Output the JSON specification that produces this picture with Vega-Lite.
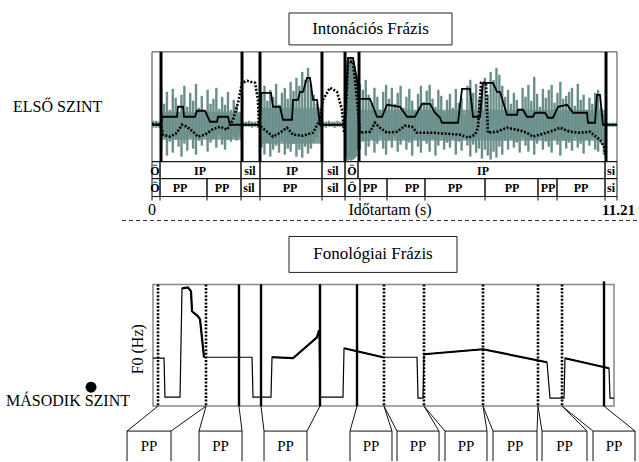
{
  "$schema": "https://vega.github.io/schema/vega-lite/v6.json",
  "width": 639,
  "height": 462,
  "padding": 0,
  "autosize": {"type": "fit", "contains": "padding"},
  "config": {"view": {"stroke": null}, "text": {"font": "Liberation Serif"}},
  "datasets": {
    "boxes": [
      {"t": 3.301, "t2": 7.229, "y": 13, "y2": 45},
      {"t": 3.301, "t2": 7.349, "y": 237, "y2": 273}
    ],
    "frame1": [{"t": 0, "t2": 11.205, "y": 52, "y2": 162}],
    "frame2": [{"t": 0.024, "t2": 11.133, "y": 285, "y2": 407}],
    "wavecore": [
      {"t": 0.217, "t2": 2.169, "y": 112, "y2": 140},
      {"t": 2.602, "t2": 4.096, "y": 108, "y2": 144},
      {"t": 4.988, "t2": 10.94, "y": 110, "y2": 141}
    ],
    "tiers": [
      {"t": 0, "t2": 0.193, "y": 162, "y2": 179},
      {"t": 0.193, "t2": 2.145, "y": 162, "y2": 179},
      {"t": 2.145, "t2": 2.602, "y": 162, "y2": 179},
      {"t": 2.602, "t2": 4.096, "y": 162, "y2": 179},
      {"t": 4.096, "t2": 4.651, "y": 162, "y2": 179},
      {"t": 4.651, "t2": 4.964, "y": 162, "y2": 179},
      {"t": 4.964, "t2": 10.916, "y": 162, "y2": 179},
      {"t": 10.916, "t2": 11.205, "y": 162, "y2": 179},
      {"t": 0, "t2": 0.193, "y": 179, "y2": 197},
      {"t": 0.193, "t2": 1.325, "y": 179, "y2": 197},
      {"t": 1.325, "t2": 2.145, "y": 179, "y2": 197},
      {"t": 2.145, "t2": 2.602, "y": 179, "y2": 197},
      {"t": 2.602, "t2": 4.096, "y": 179, "y2": 197},
      {"t": 4.096, "t2": 4.651, "y": 179, "y2": 197},
      {"t": 4.651, "t2": 5.012, "y": 179, "y2": 197},
      {"t": 5.012, "t2": 5.663, "y": 179, "y2": 197},
      {"t": 5.663, "t2": 6.578, "y": 179, "y2": 197},
      {"t": 6.578, "t2": 8.024, "y": 179, "y2": 197},
      {"t": 8.024, "t2": 9.301, "y": 179, "y2": 197},
      {"t": 9.301, "t2": 9.759, "y": 179, "y2": 197},
      {"t": 9.759, "t2": 10.916, "y": 179, "y2": 197},
      {"t": 10.916, "t2": 11.205, "y": 179, "y2": 197}
    ],
    "wave": [
      {"t": 0.03, "y": 121, "y2": 128}, {"t": 0.10, "y": 121, "y2": 128}, {"t": 0.17, "y": 122, "y2": 128},
      {"t": 0.22, "y": 86, "y2": 150}, {"t": 0.29, "y": 104, "y2": 138}, {"t": 0.36, "y": 92, "y2": 156},
      {"t": 0.43, "y": 110, "y2": 142}, {"t": 0.50, "y": 89, "y2": 153}, {"t": 0.57, "y": 98, "y2": 140},
      {"t": 0.64, "y": 112, "y2": 147}, {"t": 0.71, "y": 95, "y2": 157}, {"t": 0.78, "y": 86, "y2": 144},
      {"t": 0.85, "y": 107, "y2": 151}, {"t": 0.92, "y": 93, "y2": 137}, {"t": 0.99, "y": 101, "y2": 149},
      {"t": 1.06, "y": 84, "y2": 155}, {"t": 1.13, "y": 108, "y2": 141}, {"t": 1.20, "y": 96, "y2": 146},
      {"t": 1.27, "y": 113, "y2": 136}, {"t": 1.34, "y": 90, "y2": 152}, {"t": 1.41, "y": 104, "y2": 143},
      {"t": 1.48, "y": 99, "y2": 139}, {"t": 1.55, "y": 88, "y2": 148}, {"t": 1.62, "y": 109, "y2": 135},
      {"t": 1.69, "y": 97, "y2": 145}, {"t": 1.76, "y": 105, "y2": 150}, {"t": 1.83, "y": 92, "y2": 140},
      {"t": 1.90, "y": 110, "y2": 142}, {"t": 1.97, "y": 100, "y2": 137}, {"t": 2.04, "y": 106, "y2": 141},
      {"t": 2.11, "y": 115, "y2": 134},
      {"t": 2.20, "y": 122, "y2": 127}, {"t": 2.27, "y": 122, "y2": 127}, {"t": 2.34, "y": 121, "y2": 127},
      {"t": 2.41, "y": 122, "y2": 128}, {"t": 2.48, "y": 122, "y2": 127}, {"t": 2.55, "y": 121, "y2": 128},
      {"t": 2.64, "y": 92, "y2": 148}, {"t": 2.71, "y": 86, "y2": 155}, {"t": 2.78, "y": 101, "y2": 143},
      {"t": 2.85, "y": 90, "y2": 157}, {"t": 2.92, "y": 97, "y2": 150}, {"t": 2.99, "y": 84, "y2": 146},
      {"t": 3.06, "y": 105, "y2": 153}, {"t": 3.13, "y": 93, "y2": 141}, {"t": 3.20, "y": 88, "y2": 155},
      {"t": 3.27, "y": 99, "y2": 149}, {"t": 3.34, "y": 82, "y2": 152}, {"t": 3.41, "y": 91, "y2": 144},
      {"t": 3.48, "y": 78, "y2": 157}, {"t": 3.55, "y": 86, "y2": 150}, {"t": 3.62, "y": 72, "y2": 158},
      {"t": 3.69, "y": 80, "y2": 147}, {"t": 3.76, "y": 68, "y2": 154}, {"t": 3.83, "y": 84, "y2": 149},
      {"t": 3.90, "y": 95, "y2": 143}, {"t": 3.97, "y": 104, "y2": 138}, {"t": 4.04, "y": 112, "y2": 133},
      {"t": 4.12, "y": 122, "y2": 127}, {"t": 4.19, "y": 122, "y2": 128}, {"t": 4.26, "y": 121, "y2": 127},
      {"t": 4.33, "y": 122, "y2": 127}, {"t": 4.40, "y": 122, "y2": 128}, {"t": 4.47, "y": 121, "y2": 127},
      {"t": 4.54, "y": 122, "y2": 127}, {"t": 4.61, "y": 122, "y2": 128},
      {"t": 4.68, "y": 80, "y2": 158}, {"t": 4.72, "y": 62, "y2": 161}, {"t": 4.76, "y": 57, "y2": 160},
      {"t": 4.80, "y": 58, "y2": 161}, {"t": 4.84, "y": 60, "y2": 160}, {"t": 4.88, "y": 66, "y2": 159},
      {"t": 4.92, "y": 75, "y2": 157}, {"t": 4.96, "y": 90, "y2": 150},
      {"t": 5.01, "y": 84, "y2": 150}, {"t": 5.08, "y": 90, "y2": 142}, {"t": 5.15, "y": 80, "y2": 156},
      {"t": 5.22, "y": 95, "y2": 147}, {"t": 5.29, "y": 103, "y2": 139}, {"t": 5.36, "y": 88, "y2": 153},
      {"t": 5.43, "y": 97, "y2": 144}, {"t": 5.50, "y": 110, "y2": 136}, {"t": 5.57, "y": 92, "y2": 149},
      {"t": 5.64, "y": 85, "y2": 155}, {"t": 5.71, "y": 99, "y2": 141}, {"t": 5.78, "y": 88, "y2": 148},
      {"t": 5.85, "y": 104, "y2": 137}, {"t": 5.92, "y": 93, "y2": 152}, {"t": 5.99, "y": 86, "y2": 145},
      {"t": 6.06, "y": 108, "y2": 139}, {"t": 6.13, "y": 97, "y2": 150}, {"t": 6.20, "y": 89, "y2": 143},
      {"t": 6.27, "y": 101, "y2": 156}, {"t": 6.34, "y": 112, "y2": 138}, {"t": 6.41, "y": 94, "y2": 147},
      {"t": 6.48, "y": 86, "y2": 153}, {"t": 6.55, "y": 102, "y2": 141}, {"t": 6.62, "y": 91, "y2": 144},
      {"t": 6.69, "y": 85, "y2": 152}, {"t": 6.76, "y": 99, "y2": 139}, {"t": 6.83, "y": 107, "y2": 156},
      {"t": 6.90, "y": 90, "y2": 146}, {"t": 6.97, "y": 96, "y2": 137}, {"t": 7.04, "y": 113, "y2": 150},
      {"t": 7.11, "y": 100, "y2": 143}, {"t": 7.18, "y": 94, "y2": 148}, {"t": 7.25, "y": 108, "y2": 139},
      {"t": 7.32, "y": 89, "y2": 155}, {"t": 7.39, "y": 103, "y2": 142}, {"t": 7.46, "y": 98, "y2": 151},
      {"t": 7.53, "y": 115, "y2": 136}, {"t": 7.60, "y": 86, "y2": 146}, {"t": 7.67, "y": 80, "y2": 157},
      {"t": 7.74, "y": 93, "y2": 145}, {"t": 7.81, "y": 84, "y2": 153}, {"t": 7.88, "y": 99, "y2": 149},
      {"t": 7.95, "y": 88, "y2": 159}, {"t": 8.02, "y": 78, "y2": 150}, {"t": 8.09, "y": 95, "y2": 156},
      {"t": 8.16, "y": 72, "y2": 160}, {"t": 8.23, "y": 80, "y2": 152}, {"t": 8.30, "y": 68, "y2": 158},
      {"t": 8.37, "y": 75, "y2": 147}, {"t": 8.44, "y": 86, "y2": 155}, {"t": 8.51, "y": 97, "y2": 141},
      {"t": 8.58, "y": 90, "y2": 150}, {"t": 8.65, "y": 104, "y2": 139}, {"t": 8.72, "y": 93, "y2": 148},
      {"t": 8.79, "y": 100, "y2": 143}, {"t": 8.86, "y": 112, "y2": 153}, {"t": 8.93, "y": 88, "y2": 137},
      {"t": 9.00, "y": 97, "y2": 146}, {"t": 9.07, "y": 85, "y2": 152}, {"t": 9.14, "y": 101, "y2": 140},
      {"t": 9.21, "y": 77, "y2": 155}, {"t": 9.28, "y": 94, "y2": 144}, {"t": 9.35, "y": 107, "y2": 138},
      {"t": 9.42, "y": 89, "y2": 150}, {"t": 9.49, "y": 98, "y2": 142}, {"t": 9.56, "y": 90, "y2": 147},
      {"t": 9.63, "y": 85, "y2": 153}, {"t": 9.70, "y": 103, "y2": 139}, {"t": 9.77, "y": 93, "y2": 145},
      {"t": 9.84, "y": 82, "y2": 156}, {"t": 9.91, "y": 99, "y2": 141}, {"t": 9.98, "y": 96, "y2": 149},
      {"t": 10.05, "y": 92, "y2": 143}, {"t": 10.12, "y": 88, "y2": 151}, {"t": 10.19, "y": 106, "y2": 137},
      {"t": 10.26, "y": 84, "y2": 148}, {"t": 10.33, "y": 100, "y2": 144}, {"t": 10.40, "y": 95, "y2": 154},
      {"t": 10.47, "y": 110, "y2": 140}, {"t": 10.54, "y": 98, "y2": 146}, {"t": 10.61, "y": 104, "y2": 138},
      {"t": 10.68, "y": 93, "y2": 150}, {"t": 10.75, "y": 90, "y2": 152}, {"t": 10.82, "y": 108, "y2": 144},
      {"t": 10.89, "y": 114, "y2": 155},
      {"t": 10.97, "y": 123, "y2": 127}, {"t": 11.04, "y": 123, "y2": 127}, {"t": 11.11, "y": 123, "y2": 127},
      {"t": 11.18, "y": 123, "y2": 127}
    ],
    "f0top": [
      {"t": 0, "y": 125}, {"t": 0.217, "y": 125}, {"t": 0.241, "y": 117}, {"t": 0.602, "y": 117},
      {"t": 0.627, "y": 107}, {"t": 0.747, "y": 107}, {"t": 0.771, "y": 117}, {"t": 1.036, "y": 117},
      {"t": 1.084, "y": 111}, {"t": 1.277, "y": 111}, {"t": 1.398, "y": 122}, {"t": 1.566, "y": 122},
      {"t": 1.590, "y": 117}, {"t": 1.831, "y": 117}, {"t": 1.880, "y": 125}, {"t": 2.602, "y": 125},
      {"t": 2.627, "y": 93}, {"t": 2.867, "y": 93}, {"t": 2.916, "y": 107}, {"t": 3.084, "y": 107},
      {"t": 3.157, "y": 120}, {"t": 3.373, "y": 120}, {"t": 3.398, "y": 100}, {"t": 3.518, "y": 100},
      {"t": 3.566, "y": 92}, {"t": 3.639, "y": 92}, {"t": 3.735, "y": 78}, {"t": 3.807, "y": 78},
      {"t": 3.880, "y": 100}, {"t": 3.976, "y": 100}, {"t": 4.048, "y": 125}, {"t": 4.627, "y": 125},
      {"t": 4.675, "y": 100}, {"t": 4.723, "y": 58}, {"t": 4.843, "y": 58}, {"t": 4.940, "y": 80},
      {"t": 4.988, "y": 99}, {"t": 5.253, "y": 99}, {"t": 5.422, "y": 117}, {"t": 5.542, "y": 117},
      {"t": 5.663, "y": 105}, {"t": 5.976, "y": 107}, {"t": 6.145, "y": 117}, {"t": 6.337, "y": 117},
      {"t": 6.506, "y": 104}, {"t": 6.699, "y": 104}, {"t": 6.819, "y": 113}, {"t": 6.940, "y": 118},
      {"t": 6.988, "y": 123}, {"t": 7.373, "y": 123}, {"t": 7.470, "y": 89}, {"t": 7.663, "y": 89},
      {"t": 7.735, "y": 117}, {"t": 7.904, "y": 117}, {"t": 7.976, "y": 83}, {"t": 8.217, "y": 83},
      {"t": 8.313, "y": 92}, {"t": 8.386, "y": 92}, {"t": 8.554, "y": 115}, {"t": 8.795, "y": 115},
      {"t": 8.819, "y": 110}, {"t": 8.940, "y": 110}, {"t": 9.036, "y": 117}, {"t": 9.181, "y": 117},
      {"t": 9.229, "y": 113}, {"t": 9.470, "y": 113}, {"t": 9.542, "y": 118}, {"t": 9.663, "y": 118},
      {"t": 9.783, "y": 107}, {"t": 10.000, "y": 105}, {"t": 10.145, "y": 113}, {"t": 10.482, "y": 113},
      {"t": 10.506, "y": 123}, {"t": 10.675, "y": 123}, {"t": 10.723, "y": 95}, {"t": 10.795, "y": 95},
      {"t": 10.867, "y": 125}, {"t": 11.205, "y": 125}
    ],
    "inttop": [
      {"t": 0, "y": 124}, {"t": 0.217, "y": 125}, {"t": 0.265, "y": 135}, {"t": 0.434, "y": 137},
      {"t": 0.602, "y": 133}, {"t": 0.723, "y": 125}, {"t": 0.843, "y": 127}, {"t": 0.988, "y": 132},
      {"t": 1.108, "y": 137}, {"t": 1.277, "y": 135}, {"t": 1.446, "y": 130}, {"t": 1.639, "y": 127},
      {"t": 1.807, "y": 130}, {"t": 1.952, "y": 120}, {"t": 2.072, "y": 103}, {"t": 2.169, "y": 83},
      {"t": 2.289, "y": 81}, {"t": 2.482, "y": 83}, {"t": 2.554, "y": 100}, {"t": 2.578, "y": 127},
      {"t": 2.627, "y": 127}, {"t": 2.771, "y": 132}, {"t": 2.916, "y": 137}, {"t": 3.084, "y": 133},
      {"t": 3.253, "y": 128}, {"t": 3.398, "y": 135}, {"t": 3.639, "y": 136}, {"t": 3.880, "y": 133},
      {"t": 4.048, "y": 120}, {"t": 4.120, "y": 100}, {"t": 4.289, "y": 88}, {"t": 4.458, "y": 92},
      {"t": 4.578, "y": 110}, {"t": 4.627, "y": 133}, {"t": 4.675, "y": 110}, {"t": 4.723, "y": 62},
      {"t": 4.843, "y": 62}, {"t": 4.940, "y": 100}, {"t": 5.012, "y": 133}, {"t": 5.253, "y": 132},
      {"t": 5.373, "y": 123}, {"t": 5.494, "y": 128}, {"t": 5.663, "y": 133}, {"t": 5.904, "y": 132},
      {"t": 6.096, "y": 126}, {"t": 6.265, "y": 127}, {"t": 6.386, "y": 133}, {"t": 6.771, "y": 133},
      {"t": 7.108, "y": 134}, {"t": 7.422, "y": 135}, {"t": 7.614, "y": 138}, {"t": 7.783, "y": 135},
      {"t": 7.855, "y": 128}, {"t": 7.928, "y": 83}, {"t": 8.048, "y": 83}, {"t": 8.096, "y": 133},
      {"t": 8.313, "y": 132}, {"t": 8.554, "y": 128}, {"t": 8.795, "y": 130}, {"t": 9.036, "y": 133},
      {"t": 9.181, "y": 137}, {"t": 9.349, "y": 135}, {"t": 9.590, "y": 132}, {"t": 9.831, "y": 128},
      {"t": 10.072, "y": 132}, {"t": 10.313, "y": 133}, {"t": 10.554, "y": 132}, {"t": 10.795, "y": 140},
      {"t": 10.892, "y": 147}, {"t": 10.940, "y": 158}
    ],
    "topbounds": [
      {"t": 0.217, "y": 52, "y2": 162}, {"t": 2.169, "y": 52, "y2": 162}, {"t": 2.602, "y": 52, "y2": 162},
      {"t": 4.096, "y": 52, "y2": 162}, {"t": 4.651, "y": 52, "y2": 162}, {"t": 4.988, "y": 52, "y2": 162},
      {"t": 10.940, "y": 52, "y2": 162}
    ],
    "tierlabels": [
      {"t": 0.072, "y": 171, "label": "Ö"}, {"t": 1.157, "y": 171, "label": "IP"},
      {"t": 2.361, "y": 171, "label": "sil"}, {"t": 3.373, "y": 171, "label": "IP"},
      {"t": 4.361, "y": 171, "label": "sil"}, {"t": 4.819, "y": 171, "label": "Ö"},
      {"t": 7.976, "y": 171, "label": "IP"}, {"t": 11.06, "y": 171, "label": "si"},
      {"t": 0.072, "y": 188, "label": "Ö"}, {"t": 0.675, "y": 188, "label": "PP"},
      {"t": 1.687, "y": 188, "label": "PP"}, {"t": 2.336, "y": 188, "label": "sil"},
      {"t": 3.325, "y": 188, "label": "PP"}, {"t": 4.361, "y": 188, "label": "sil"},
      {"t": 4.819, "y": 188, "label": "Ö"}, {"t": 5.253, "y": 188, "label": "PP"},
      {"t": 6.265, "y": 188, "label": "PP"}, {"t": 7.301, "y": 188, "label": "PP"},
      {"t": 8.675, "y": 188, "label": "PP"}, {"t": 9.542, "y": 188, "label": "PP"},
      {"t": 10.337, "y": 188, "label": "PP"}, {"t": 11.06, "y": 188, "label": "si"}
    ],
    "segs": [
      {"t": 0, "t2": 0, "y": 197, "y2": 201}, {"t": 0.193, "t2": 0.193, "y": 197, "y2": 201},
      {"t": 1.325, "t2": 1.325, "y": 197, "y2": 201}, {"t": 2.145, "t2": 2.145, "y": 197, "y2": 201},
      {"t": 2.602, "t2": 2.602, "y": 197, "y2": 201}, {"t": 4.096, "t2": 4.096, "y": 197, "y2": 201},
      {"t": 4.651, "t2": 4.651, "y": 197, "y2": 201}, {"t": 5.012, "t2": 5.012, "y": 197, "y2": 201},
      {"t": 5.663, "t2": 5.663, "y": 197, "y2": 201}, {"t": 6.578, "t2": 6.578, "y": 197, "y2": 201},
      {"t": 8.024, "t2": 8.024, "y": 197, "y2": 201}, {"t": 9.301, "t2": 9.301, "y": 197, "y2": 201},
      {"t": 9.759, "t2": 9.759, "y": 197, "y2": 201}, {"t": 10.916, "t2": 10.916, "y": 197, "y2": 201},
      {"t": 11.205, "t2": 11.205, "y": 197, "y2": 201},
      {"t": 0.145, "t2": -0.602, "y": 407, "y2": 432}, {"t": 1.301, "t2": 0.458, "y": 407, "y2": 432},
      {"t": 1.301, "t2": 1.133, "y": 407, "y2": 432}, {"t": 2.096, "t2": 2.169, "y": 407, "y2": 432},
      {"t": 2.627, "t2": 2.699, "y": 407, "y2": 432}, {"t": 4.048, "t2": 3.735, "y": 407, "y2": 432},
      {"t": 4.940, "t2": 4.771, "y": 407, "y2": 432}, {"t": 5.590, "t2": 5.783, "y": 407, "y2": 432},
      {"t": 5.590, "t2": 5.904, "y": 407, "y2": 432}, {"t": 6.554, "t2": 6.916, "y": 407, "y2": 432},
      {"t": 6.554, "t2": 7.060, "y": 407, "y2": 432}, {"t": 7.976, "t2": 8.072, "y": 407, "y2": 432},
      {"t": 7.976, "t2": 8.217, "y": 407, "y2": 432}, {"t": 9.301, "t2": 9.277, "y": 407, "y2": 432},
      {"t": 9.301, "t2": 9.398, "y": 407, "y2": 432}, {"t": 9.880, "t2": 10.482, "y": 407, "y2": 432},
      {"t": 9.880, "t2": 10.627, "y": 407, "y2": 432}, {"t": 10.892, "t2": 11.639, "y": 407, "y2": 432},
      {"t": -0.602, "t2": -0.602, "y": 432, "y2": 462}, {"t": 0.458, "t2": 0.458, "y": 432, "y2": 462},
      {"t": 1.133, "t2": 1.133, "y": 432, "y2": 462}, {"t": 2.169, "t2": 2.169, "y": 432, "y2": 462},
      {"t": 2.699, "t2": 2.699, "y": 432, "y2": 462}, {"t": 3.735, "t2": 3.735, "y": 432, "y2": 462},
      {"t": 4.771, "t2": 4.771, "y": 432, "y2": 462}, {"t": 5.783, "t2": 5.783, "y": 432, "y2": 462},
      {"t": 5.904, "t2": 5.904, "y": 432, "y2": 462}, {"t": 6.916, "t2": 6.916, "y": 432, "y2": 462},
      {"t": 7.060, "t2": 7.060, "y": 432, "y2": 462}, {"t": 8.072, "t2": 8.072, "y": 432, "y2": 462},
      {"t": 8.217, "t2": 8.217, "y": 432, "y2": 462}, {"t": 9.277, "t2": 9.277, "y": 432, "y2": 462},
      {"t": 9.398, "t2": 9.398, "y": 432, "y2": 462}, {"t": 10.482, "t2": 10.482, "y": 432, "y2": 462},
      {"t": 10.627, "t2": 10.627, "y": 432, "y2": 462}, {"t": 11.639, "t2": 11.639, "y": 432, "y2": 462},
      {"t": -0.602, "t2": 0.458, "y": 432, "y2": 432}, {"t": 1.133, "t2": 2.169, "y": 432, "y2": 432},
      {"t": 2.699, "t2": 3.735, "y": 432, "y2": 432}, {"t": 4.771, "t2": 5.783, "y": 432, "y2": 432},
      {"t": 5.904, "t2": 6.916, "y": 432, "y2": 432}, {"t": 7.060, "t2": 8.072, "y": 432, "y2": 432},
      {"t": 8.217, "t2": 9.277, "y": 432, "y2": 432}, {"t": 9.398, "t2": 10.482, "y": 432, "y2": 432},
      {"t": 10.627, "t2": 11.639, "y": 432, "y2": 432}
    ],
    "separator": [{"t": -0.723, "t2": 11.687, "y": 221}],
    "f0bot": [
      {"t": 0.024, "y": 359}, {"t": 0.289, "y": 359}, {"t": 0.313, "y": 398}, {"t": 0.675, "y": 398},
      {"t": 0.723, "y": 289}, {"t": 0.867, "y": 288}, {"t": 0.940, "y": 292}, {"t": 0.964, "y": 312},
      {"t": 1.108, "y": 317}, {"t": 1.157, "y": 320}, {"t": 1.253, "y": 358}, {"t": 2.410, "y": 358},
      {"t": 2.434, "y": 398}, {"t": 2.867, "y": 398}, {"t": 2.892, "y": 358}, {"t": 3.398, "y": 359},
      {"t": 3.976, "y": 338}, {"t": 4.024, "y": 331}, {"t": 4.048, "y": 398}, {"t": 4.602, "y": 398},
      {"t": 4.627, "y": 349}, {"t": 5.566, "y": 358}, {"t": 6.386, "y": 358}, {"t": 6.410, "y": 399},
      {"t": 6.530, "y": 399}, {"t": 6.554, "y": 355}, {"t": 7.976, "y": 350}, {"t": 9.518, "y": 363},
      {"t": 9.590, "y": 399}, {"t": 9.928, "y": 399}, {"t": 9.952, "y": 359}, {"t": 11.012, "y": 369},
      {"t": 11.036, "y": 399}, {"t": 11.133, "y": 399}
    ],
    "f0botthick": [
      {"g": 1, "t": 0.723, "y": 289}, {"g": 1, "t": 0.867, "y": 288}, {"g": 1, "t": 0.940, "y": 292},
      {"g": 1, "t": 0.964, "y": 312}, {"g": 1, "t": 1.108, "y": 317}, {"g": 1, "t": 1.157, "y": 320},
      {"g": 1, "t": 1.253, "y": 358},
      {"g": 2, "t": 2.892, "y": 358}, {"g": 2, "t": 3.398, "y": 359}, {"g": 2, "t": 3.976, "y": 338},
      {"g": 2, "t": 4.024, "y": 331},
      {"g": 3, "t": 4.627, "y": 349}, {"g": 3, "t": 5.566, "y": 358},
      {"g": 4, "t": 6.554, "y": 355}, {"g": 4, "t": 7.976, "y": 350}, {"g": 4, "t": 9.518, "y": 363},
      {"g": 5, "t": 9.952, "y": 359}, {"g": 5, "t": 11.012, "y": 369}
    ],
    "botdotted": [
      {"t": 0.145, "y": 285, "y2": 407}, {"t": 1.301, "y": 285, "y2": 407}, {"t": 5.590, "y": 285, "y2": 407},
      {"t": 6.554, "y": 285, "y2": 407}, {"t": 7.976, "y": 285, "y2": 407}, {"t": 9.301, "y": 285, "y2": 407},
      {"t": 9.880, "y": 285, "y2": 407}
    ],
    "botsolid": [
      {"t": 2.096, "y": 285, "y2": 407}, {"t": 2.627, "y": 285, "y2": 407}, {"t": 4.048, "y": 285, "y2": 407},
      {"t": 4.940, "y": 285, "y2": 407}, {"t": 10.892, "y": 282, "y2": 407}
    ],
    "pplabels": [
      {"t": -0.072, "y": 447, "label": "PP"}, {"t": 1.651, "y": 447, "label": "PP"},
      {"t": 3.217, "y": 447, "label": "PP"}, {"t": 5.277, "y": 447, "label": "PP"},
      {"t": 6.410, "y": 447, "label": "PP"}, {"t": 7.566, "y": 447, "label": "PP"},
      {"t": 8.747, "y": 447, "label": "PP"}, {"t": 9.940, "y": 447, "label": "PP"},
      {"t": 11.133, "y": 447, "label": "PP"}
    ],
    "titles": [
      {"t": 5.265, "y": 29, "label": "Intonációs Frázis"},
      {"t": 5.325, "y": 255, "label": "Fonológiai Frázis"}
    ],
    "axistext": [
      {"t": 0, "y": 210, "label": "0"},
      {"t": 5.735, "y": 210, "label": "Időtartam (s)"}
    ],
    "axisend": [{"t": 11.639, "y": 210, "label": "11.21"}],
    "levels": [
      {"t": -3.349, "y": 107, "label": "ELSŐ SZINT"},
      {"t": -3.518, "y": 402, "label": "MÁSODIK SZINT"}
    ],
    "f0label": [{"t": -0.337, "y": 350, "label": "F0 (Hz)"}],
    "dot": [{"t": -1.47, "y": 388}]
  },
  "encoding": {
    "x": {"field": "t", "type": "quantitative", "scale": {"domain": [-3.663, 11.735], "nice": false, "zero": false}, "axis": null},
    "y": {"field": "y", "type": "quantitative", "scale": {"domain": [0, 462], "reverse": true, "nice": false, "zero": false}, "axis": null}
  },
  "layer": [
    {"data": {"name": "boxes"}, "mark": {"type": "rect", "fill": "white", "stroke": "#222", "strokeWidth": 1},
     "encoding": {"x2": {"field": "t2"}, "y2": {"field": "y2"}}},
    {"data": {"name": "frame1"}, "mark": {"type": "rect", "fill": "white", "stroke": "#444", "strokeWidth": 1},
     "encoding": {"x2": {"field": "t2"}, "y2": {"field": "y2"}}},
    {"data": {"name": "frame2"}, "mark": {"type": "rect", "fill": "white", "stroke": "#888", "strokeWidth": 1.5},
     "encoding": {"x2": {"field": "t2"}, "y2": {"field": "y2"}}},
    {"data": {"name": "wavecore"}, "mark": {"type": "rect", "fill": "#6a8f8b", "opacity": 0.85},
     "encoding": {"x2": {"field": "t2"}, "y2": {"field": "y2"}}},
    {"data": {"name": "wave"}, "mark": {"type": "rule", "stroke": "#6a8f8b", "strokeWidth": 2.4},
     "encoding": {"y2": {"field": "y2"}}},
    {"data": {"name": "tiers"}, "mark": {"type": "rect", "fill": null, "fillOpacity": 0, "stroke": "#111", "strokeWidth": 1},
     "encoding": {"x2": {"field": "t2"}, "y2": {"field": "y2"}}},
    {"data": {"name": "f0top"}, "mark": {"type": "line", "stroke": "#000", "strokeWidth": 1.8, "interpolate": "linear"},
     "encoding": {}},
    {"data": {"name": "inttop"}, "mark": {"type": "line", "stroke": "#000", "strokeWidth": 2.6, "strokeDash": [2, 1.6]},
     "encoding": {}},
    {"data": {"name": "topbounds"}, "mark": {"type": "rule", "stroke": "#000", "strokeWidth": 3},
     "encoding": {"y2": {"field": "y2"}}},
    {"data": {"name": "tierlabels"}, "mark": {"type": "text", "fontSize": 12, "fontWeight": "bold", "baseline": "middle", "align": "center", "font": "Liberation Serif"},
     "encoding": {"text": {"field": "label"}}},
    {"data": {"name": "segs"}, "mark": {"type": "rule", "stroke": "#111", "strokeWidth": 1},
     "encoding": {"x2": {"field": "t2"}, "y2": {"field": "y2"}}},
    {"data": {"name": "separator"}, "mark": {"type": "rule", "stroke": "#333", "strokeWidth": 1, "strokeDash": [4, 3]},
     "encoding": {"x2": {"field": "t2"}}},
    {"data": {"name": "f0bot"}, "mark": {"type": "line", "stroke": "#000", "strokeWidth": 1.2},
     "encoding": {}},
    {"data": {"name": "f0botthick"}, "mark": {"type": "line", "stroke": "#000", "strokeWidth": 2.2},
     "encoding": {"detail": {"field": "g"}}},
    {"data": {"name": "botdotted"}, "mark": {"type": "rule", "stroke": "#000", "strokeWidth": 2.6, "strokeDash": [2, 1.6]},
     "encoding": {"y2": {"field": "y2"}}},
    {"data": {"name": "botsolid"}, "mark": {"type": "rule", "stroke": "#000", "strokeWidth": 2.4},
     "encoding": {"y2": {"field": "y2"}}},
    {"data": {"name": "pplabels"}, "mark": {"type": "text", "fontSize": 15, "baseline": "middle", "align": "center", "font": "Liberation Serif"},
     "encoding": {"text": {"field": "label"}}},
    {"data": {"name": "titles"}, "mark": {"type": "text", "fontSize": 17, "baseline": "middle", "align": "center", "font": "Liberation Serif"},
     "encoding": {"text": {"field": "label"}}},
    {"data": {"name": "axistext"}, "mark": {"type": "text", "fontSize": 16, "baseline": "middle", "align": "center", "font": "Liberation Serif"},
     "encoding": {"text": {"field": "label"}}},
    {"data": {"name": "axisend"}, "mark": {"type": "text", "fontSize": 15, "fontWeight": "bold", "baseline": "middle", "align": "right", "font": "Liberation Serif"},
     "encoding": {"text": {"field": "label"}}},
    {"data": {"name": "levels"}, "mark": {"type": "text", "fontSize": 16, "baseline": "middle", "align": "left", "font": "Liberation Serif"},
     "encoding": {"text": {"field": "label"}}},
    {"data": {"name": "f0label"}, "mark": {"type": "text", "fontSize": 16, "baseline": "middle", "align": "center", "angle": 270, "font": "Liberation Serif"},
     "encoding": {"text": {"field": "label"}}},
    {"data": {"name": "dot"}, "mark": {"type": "point", "filled": true, "color": "#000", "size": 120, "opacity": 1},
     "encoding": {}}
  ]
}
